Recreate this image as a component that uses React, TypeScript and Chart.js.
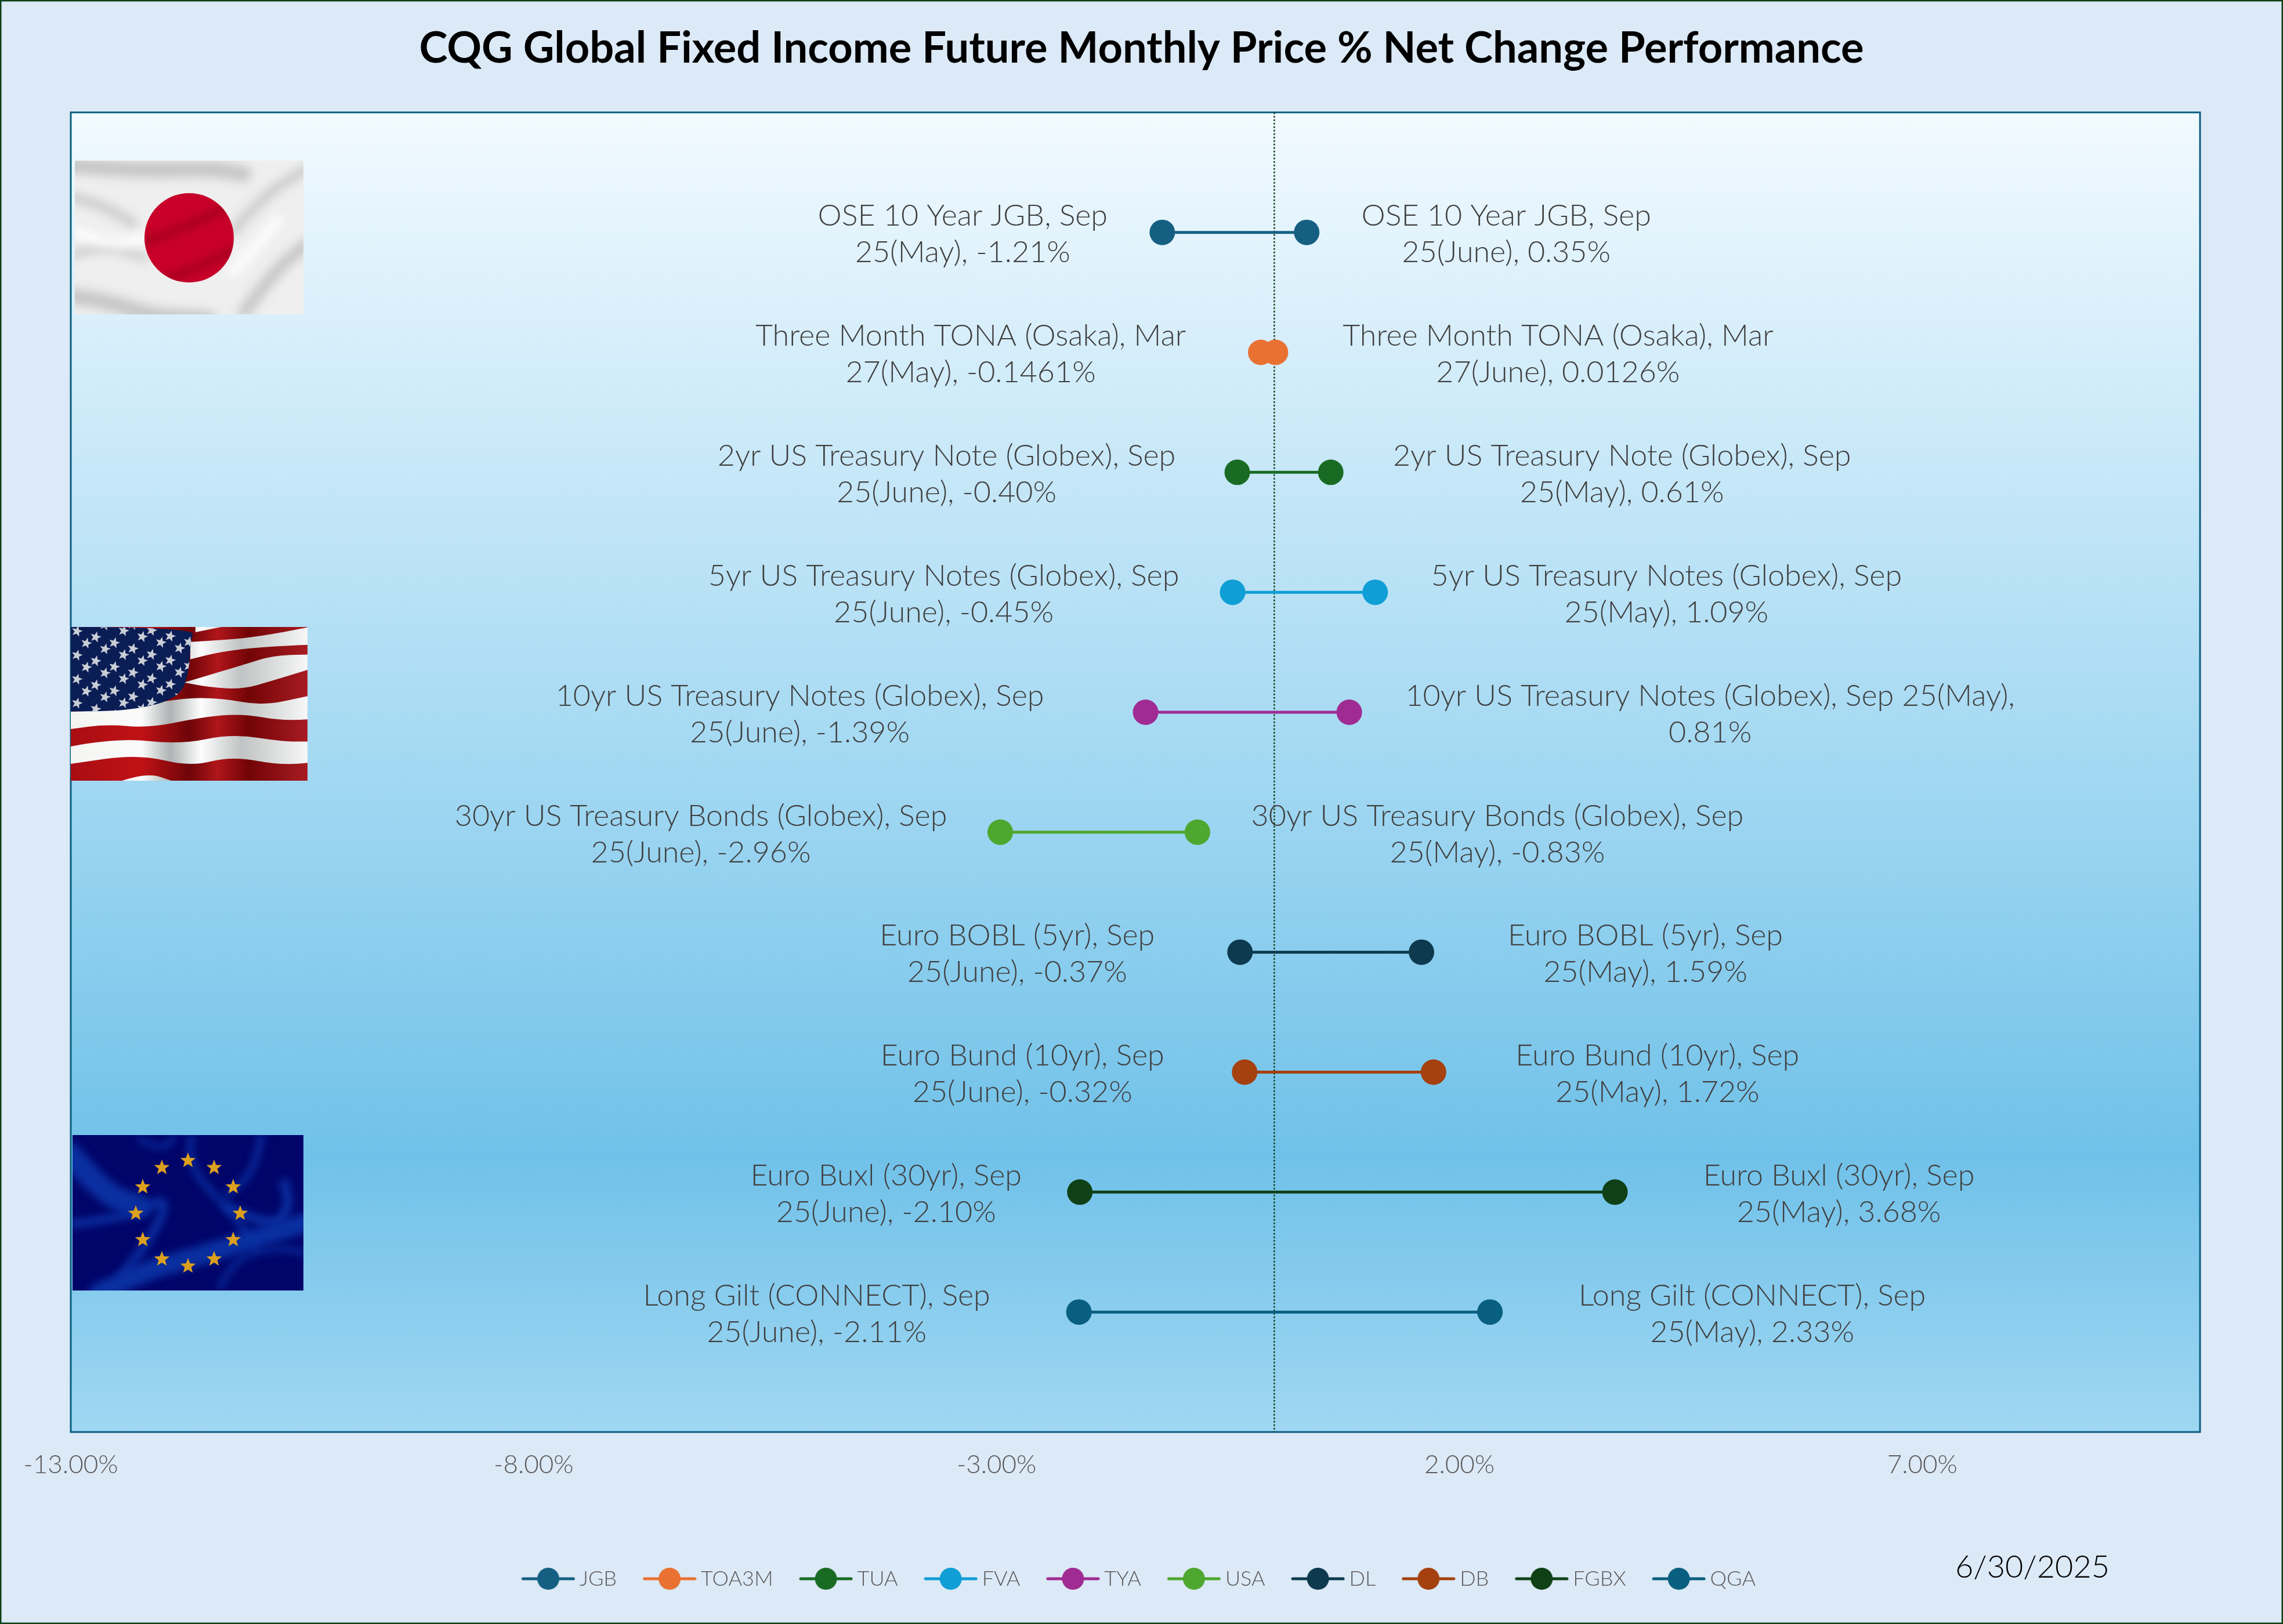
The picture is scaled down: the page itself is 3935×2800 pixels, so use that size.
import { useEffect, useRef } from "react";
import { Chart, registerables } from "chart.js";

Chart.register(...registerables);

const titleText = "CQG Global Fixed Income Future Monthly Price % Net Change Performance";
const dateText = "6/30/2025";

const tickers = ["JGB", "TOA3M", "TUA", "FVA", "TYA", "USA", "DL", "DB", "FGBX", "QGA"];
const rows = [1, 2, 3, 4, 5, 6, 7, 8, 9, 10];
const lowValues = [-1.21, -0.1461, -0.4, -0.45, -1.39, -2.96, -0.37, -0.32, -2.1, -2.11];
const highValues = [0.35, 0.0126, 0.61, 1.09, 0.81, -0.83, 1.59, 1.72, 3.68, 2.33];
const xTicks = [-13, -8, -3, 2, 7];
const seriesColors = ["#156082", "#E97132", "#196B24", "#0F9ED5", "#A02B93", "#4EA72E", "#0D3A4E", "#A5400F", "#0F4016", "#095F80"];

const lowLabels = [
  ["OSE 10 Year JGB, Sep", "25(May), -1.21%"],
  ["Three Month TONA (Osaka), Mar", "27(May), -0.1461%"],
  ["2yr US Treasury Note (Globex), Sep", "25(June), -0.40%"],
  ["5yr US Treasury Notes (Globex), Sep", "25(June), -0.45%"],
  ["10yr US Treasury Notes (Globex), Sep", "25(June), -1.39%"],
  ["30yr US Treasury Bonds (Globex), Sep", "25(June), -2.96%"],
  ["Euro BOBL (5yr), Sep", "25(June), -0.37%"],
  ["Euro Bund (10yr), Sep", "25(June), -0.32%"],
  ["Euro Buxl (30yr), Sep", "25(June), -2.10%"],
  ["Long Gilt (CONNECT), Sep", "25(June), -2.11%"],
];
const highLabels = [
  ["OSE 10 Year JGB, Sep", "25(June), 0.35%"],
  ["Three Month TONA (Osaka), Mar", "27(June), 0.0126%"],
  ["2yr US Treasury Note (Globex), Sep", "25(May), 0.61%"],
  ["5yr US Treasury Notes (Globex), Sep", "25(May), 1.09%"],
  ["10yr US Treasury Notes (Globex), Sep 25(May),", "0.81%"],
  ["30yr US Treasury Bonds (Globex), Sep", "25(May), -0.83%"],
  ["Euro BOBL (5yr), Sep", "25(May), 1.59%"],
  ["Euro Bund (10yr), Sep", "25(May), 1.72%"],
  ["Euro Buxl (30yr), Sep", "25(May), 3.68%"],
  ["Long Gilt (CONNECT), Sep", "25(May), 2.33%"],
];

// distance from a point to the centre of its text block, px
const lowLabelOffset = [344, 500, 501, 498, 596, 516, 384, 383, 334, 452];
const highLabelOffset = [344, 487, 502, 502, 622, 517, 386, 386, 386, 452];

const LABEL_FONT = "300 52px Lato";

type Pt = [number, number];

function smooth(ctx: CanvasRenderingContext2D, pts: Pt[], start: boolean) {
  if (start) ctx.moveTo(pts[0][0], pts[0][1]);
  else ctx.lineTo(pts[0][0], pts[0][1]);
  for (let i = 1; i < pts.length - 1; i++) {
    const mx = (pts[i][0] + pts[i + 1][0]) / 2;
    const my = (pts[i][1] + pts[i + 1][1]) / 2;
    ctx.quadraticCurveTo(pts[i][0], pts[i][1], mx, my);
  }
  ctx.lineTo(pts[pts.length - 1][0], pts[pts.length - 1][1]);
}

function star(ctx: CanvasRenderingContext2D, cx: number, cy: number, r: number, tilt = 0) {
  ctx.beginPath();
  for (let i = 0; i < 10; i++) {
    const rad = i % 2 ? r * 0.42 : r;
    const a = -Math.PI / 2 + tilt + (i * Math.PI) / 5;
    ctx.lineTo(cx + rad * Math.cos(a), cy + rad * Math.sin(a));
  }
  ctx.closePath();
  ctx.fill();
}

function drawJapanFlag(ctx: CanvasRenderingContext2D) {
  const x = 129, y = 277, w = 394, h = 265;
  ctx.save();
  ctx.beginPath();
  ctx.rect(x, y, w, h);
  ctx.clip();
  ctx.fillStyle = "#efefef";
  ctx.fillRect(x, y, w, h);
  ctx.filter = "blur(9px)";
  ctx.strokeStyle = "#c4c4c4";
  ctx.lineCap = "round";
  const folds: [number, Pt[]][] = [
    [26, [[120, 285], [240, 295], [360, 290], [420, 300]]],
    [14, [[120, 340], [170, 350], [230, 385]]],
    [12, [[120, 440], [180, 420], [250, 445]]],
    [26, [[120, 510], [190, 520], [260, 545], [360, 550]]],
    [14, [[400, 400], [450, 340], [530, 290]]],
    [20, [[420, 540], [470, 470], [530, 420]]],
  ];
  for (const [lw, pts] of folds) {
    ctx.lineWidth = lw;
    ctx.beginPath();
    smooth(ctx, pts, true);
    ctx.stroke();
  }
  ctx.strokeStyle = "#ffffff";
  ctx.lineWidth = 16;
  ctx.beginPath();
  smooth(ctx, [[130, 400], [190, 425], [250, 410]], true);
  ctx.moveTo(400, 470);
  ctx.lineTo(480, 380);
  ctx.stroke();
  ctx.filter = "none";
  ctx.fillStyle = "#C8002A";
  ctx.beginPath();
  ctx.arc(326, 410, 77, 0, Math.PI * 2);
  ctx.fill();
  ctx.clip();
  ctx.filter = "blur(7px)";
  ctx.strokeStyle = "#a80020";
  ctx.lineWidth = 14;
  ctx.beginPath();
  ctx.moveTo(255, 415);
  ctx.quadraticCurveTo(330, 390, 405, 350);
  ctx.moveTo(255, 490);
  ctx.quadraticCurveTo(330, 470, 405, 430);
  ctx.stroke();
  ctx.restore();
}

function drawUsFlag(ctx: CanvasRenderingContext2D) {
  // outline points below were traced in a 1143 x 794 box, then scaled to the flag
  const x = 122, y = 1081, w = 408, h = 265;
  const sx = w / 1143, sy = h / 794;
  const map = (pts: Pt[]): Pt[] => pts.map(([a, b]) => [x + a * sx, y + b * sy]);
  ctx.save();
  ctx.beginPath();
  ctx.rect(x, y, w, h);
  ctx.clip();
  const red = ctx.createLinearGradient(x, 0, x + w, 0);
  red.addColorStop(0, "#a80d12");
  red.addColorStop(0.3, "#c01216");
  red.addColorStop(0.5, "#6e0508");
  red.addColorStop(0.62, "#b0161b");
  red.addColorStop(0.75, "#720406");
  red.addColorStop(1, "#a81c22");
  ctx.fillStyle = red;
  ctx.fillRect(x, y, w, h);
  const white = ctx.createLinearGradient(x, 0, x + w, 0);
  white.addColorStop(0, "#f4f4f2");
  white.addColorStop(0.3, "#fbfbfb");
  white.addColorStop(0.42, "#aeb2b2");
  white.addColorStop(0.55, "#fdfdfd");
  white.addColorStop(0.72, "#c0c3c3");
  white.addColorStop(1, "#f7f7f7");
  ctx.fillStyle = white;
  const bands: [Pt[], Pt[]][] = [
    [[[602, 27], [727, 0]], [[602, 0]]],
    [[[577, 77], [777, 67], [977, 37], [1143, 2]], [[1143, 92], [927, 102], [727, 127], [577, 167]]],
    [[[547, 287], [627, 262], [827, 197], [977, 147], [1143, 142]], [[1143, 222], [977, 277], [827, 322], [677, 312], [547, 287]]],
    [[[0, 437], [227, 432], [527, 367], [727, 367], [927, 407], [1143, 357]], [[1143, 477], [1027, 487], [827, 447], [627, 467], [377, 522], [177, 502], [0, 527]]],
    [[[0, 617], [227, 572], [527, 607], [777, 552], [1027, 592], [1143, 592]], [[1143, 702], [1027, 717], [777, 667], [577, 722], [327, 657], [0, 707]]],
    [[[247, 794], [367, 752], [487, 794]], [[247, 794]]],
  ];
  for (const [top, bottom] of bands) {
    ctx.beginPath();
    smooth(ctx, map(top), true);
    smooth(ctx, map(bottom), false);
    ctx.closePath();
    ctx.fill();
  }
  ctx.fillStyle = "#0b1d55";
  ctx.beginPath();
  smooth(ctx, map([[0, 0], [602, 0], [577, 77], [572, 227], [527, 367], [297, 432], [0, 437]]), true);
  ctx.closePath();
  ctx.fill();
  ctx.save();
  ctx.beginPath();
  smooth(ctx, map([[0, 0], [602, 0], [577, 77], [572, 227], [527, 367], [297, 432], [0, 437]]), true);
  ctx.closePath();
  ctx.clip();
  ctx.fillStyle = "#c9ced6";
  for (let i = -2; i < 7; i++) {
    for (let j = 0; j < 7; j++) {
      const a = 30 + j * 90 + (i % 2 ? 45 : 0);
      const b = 22 + i * 62 + j * 30;
      const [[px, py]] = map([[a, b]]);
      star(ctx, px, py, 10, 0.25);
    }
  }
  ctx.restore();
  ctx.restore();
}

function drawEuFlag(ctx: CanvasRenderingContext2D) {
  const x = 125, y = 1957, w = 398, h = 268;
  ctx.save();
  ctx.beginPath();
  ctx.rect(x, y, w, h);
  ctx.clip();
  ctx.fillStyle = "#01056a";
  ctx.fillRect(x, y, w, h);
  ctx.filter = "blur(7px)";
  ctx.strokeStyle = "#0a2fa0";
  ctx.lineCap = "round";
  const swirls: [number, Pt[]][] = [
    [40, [[120, 1990], [180, 2060], [240, 2080]]],
    [14, [[125, 2110], [220, 2100], [290, 2060], [270, 2120], [210, 2200]]],
    [34, [[170, 2230], [250, 2190], [330, 2170], [520, 2110]]],
    [10, [[330, 1960], [320, 2010], [400, 2090], [440, 2150]]],
    [10, [[450, 1960], [440, 2020], [390, 2060]]],
    [16, [[390, 2080], [470, 2120], [500, 2080], [490, 2040]]],
    [8, [[240, 1965], [280, 1985], [300, 1960]]],
    [8, [[380, 2220], [400, 2170], [480, 2150], [525, 2160]]],
  ];
  for (const [lw, pts] of swirls) {
    ctx.lineWidth = lw;
    ctx.beginPath();
    smooth(ctx, pts, true);
    ctx.stroke();
  }
  ctx.filter = "none";
  ctx.fillStyle = "#dca01e";
  for (let i = 0; i < 12; i++) {
    const a = (i * Math.PI) / 6;
    star(ctx, 324 + 90 * Math.sin(a), 2092 - 91 * Math.cos(a), 14);
  }
  ctx.restore();
}

const backdropPlugin = {
  id: "backdrop",
  beforeDraw(chart: any) {
    const { ctx, width, height, chartArea: a } = chart;
    ctx.save();
    ctx.fillStyle = "#DCE9F6";
    ctx.fillRect(0, 0, width, height);
    const g = ctx.createLinearGradient(0, a.top, 0, a.bottom);
    g.addColorStop(0, "#F2FAFF");
    g.addColorStop(0.5, "#A2D8F2");
    g.addColorStop(0.79, "#70C1E9");
    g.addColorStop(1, "#A0D7F2");
    ctx.fillStyle = g;
    ctx.fillRect(a.left, a.top, a.right - a.left, a.bottom - a.top);
    ctx.strokeStyle = "#0F4016";
    ctx.lineWidth = 5;
    ctx.strokeRect(0, 0, width, height);
    ctx.restore();
  },
  beforeDatasetsDraw(chart: any) {
    const { ctx, chartArea: a, scales } = chart;
    ctx.save();
    ctx.strokeStyle = "#095F80";
    ctx.lineWidth = 3;
    ctx.strokeRect(a.left, a.top, a.right - a.left, a.bottom - a.top);
    drawJapanFlag(ctx);
    drawUsFlag(ctx);
    drawEuFlag(ctx);
    const zero = scales.x.getPixelForValue(0);
    ctx.strokeStyle = "#0F4016";
    ctx.lineWidth = 2.5;
    ctx.setLineDash([3, 3]);
    ctx.beginPath();
    ctx.moveTo(zero, a.top);
    ctx.lineTo(zero, a.bottom);
    ctx.stroke();
    ctx.restore();
  },
  afterDatasetsDraw(chart: any) {
    const { ctx, scales } = chart;
    ctx.save();
    ctx.font = LABEL_FONT;
    ctx.fillStyle = "#404040";
    ctx.textAlign = "center";
    ctx.textBaseline = "middle";
    rows.forEach((row, i) => {
      const py = scales.y.getPixelForValue(row);
      const lowX = scales.x.getPixelForValue(lowValues[i]) - lowLabelOffset[i];
      const highX = scales.x.getPixelForValue(highValues[i]) + highLabelOffset[i];
      ctx.fillText(lowLabels[i][0], lowX, py - 28);
      ctx.fillText(lowLabels[i][1], lowX, py + 35);
      ctx.fillText(highLabels[i][0], highX, py - 28);
      ctx.fillText(highLabels[i][1], highX, py + 35);
    });
    ctx.font = "300 54px Lato";
    ctx.fillStyle = "#000000";
    ctx.fillText(dateText, 3503, 2703);
    ctx.restore();
  },
};

function legendIcon(color: string) {
  const c = document.createElement("canvas");
  c.width = 93;
  c.height = 40;
  const g = c.getContext("2d")!;
  g.strokeStyle = color;
  g.lineWidth = 5;
  g.lineCap = "round";
  g.beginPath();
  g.moveTo(3, 20);
  g.lineTo(90, 20);
  g.stroke();
  g.fillStyle = color;
  g.beginPath();
  g.arc(46.5, 20, 19, 0, Math.PI * 2);
  g.fill();
  return c;
}

export default function App() {
  const canvasRef = useRef<HTMLCanvasElement>(null);

  useEffect(() => {
    if (!canvasRef.current) return;
    document.body.style.margin = "0";

    const chart = new Chart(canvasRef.current, {
      type: "scatter",
      data: {
        datasets: tickers.map((ticker, i) => ({
          label: ticker,
          data: [
            { x: lowValues[i], y: rows[i] },
            { x: highValues[i], y: rows[i] },
          ],
          showLine: true,
          borderColor: seriesColors[i],
          backgroundColor: seriesColors[i],
          borderWidth: 5,
          pointRadius: 22,
          pointBorderWidth: 0,
          clip: false,
        })),
      },
      options: {
        responsive: false,
        animation: false,
        devicePixelRatio: 1,
        layout: { padding: { left: 0, right: 0, top: 0, bottom: 50 } },
        plugins: {
          title: {
            display: true,
            text: titleText,
            color: "#000000",
            font: { family: "Lato", size: 74, weight: "bold", lineHeight: 1.2 },
            padding: { top: 40, bottom: 65 },
          },
          legend: {
            position: "bottom",
            labels: {
              usePointStyle: true,
              pointStyleWidth: 72,
              boxHeight: 36,
              padding: 55,
              color: "#595959",
              font: { family: "Lato", size: 36, weight: "300" },
              generateLabels: () =>
                tickers.map((ticker, i) => ({
                  text: ticker,
                  fontColor: "#595959",
                  pointStyle: legendIcon(seriesColors[i]),
                  datasetIndex: i,
                  lineWidth: 0,
                })),
            },
          },
          tooltip: { enabled: false },
        },
        scales: {
          x: {
            type: "linear",
            min: -13,
            max: 10,
            grid: { display: false, drawTicks: false },
            border: { display: false },
            afterBuildTicks: (scale: any) => {
              scale.ticks = xTicks.map((value) => ({ value }));
            },
            afterFit: (scale: any) => {
              scale.height = 180;
            },
            ticks: {
              padding: 30,
              color: "#595959",
              autoSkip: false,
              maxRotation: 0,
              font: { family: "Lato", size: 44, weight: "300" },
              callback: (v: any) => Number(v).toFixed(2) + "%",
            },
          },
          y: {
            type: "linear",
            reverse: true,
            min: 0,
            max: 11,
            grid: { display: false, drawTicks: false },
            border: { display: false },
            ticks: { display: false },
            afterFit: (scale: any) => {
              scale.width = 122;
            },
          },
          y2: {
            type: "linear",
            position: "right",
            axis: "y",
            grid: { display: false, drawTicks: false },
            border: { display: false },
            ticks: { display: false },
            afterFit: (scale: any) => {
              scale.width = 143;
            },
          },
        },
      },
      plugins: [backdropPlugin],
    } as any);

    return () => {
      chart.destroy();
    };
  }, []);

  return <canvas ref={canvasRef} width={3935} height={2800} style={{ display: "block" }} />;
}
